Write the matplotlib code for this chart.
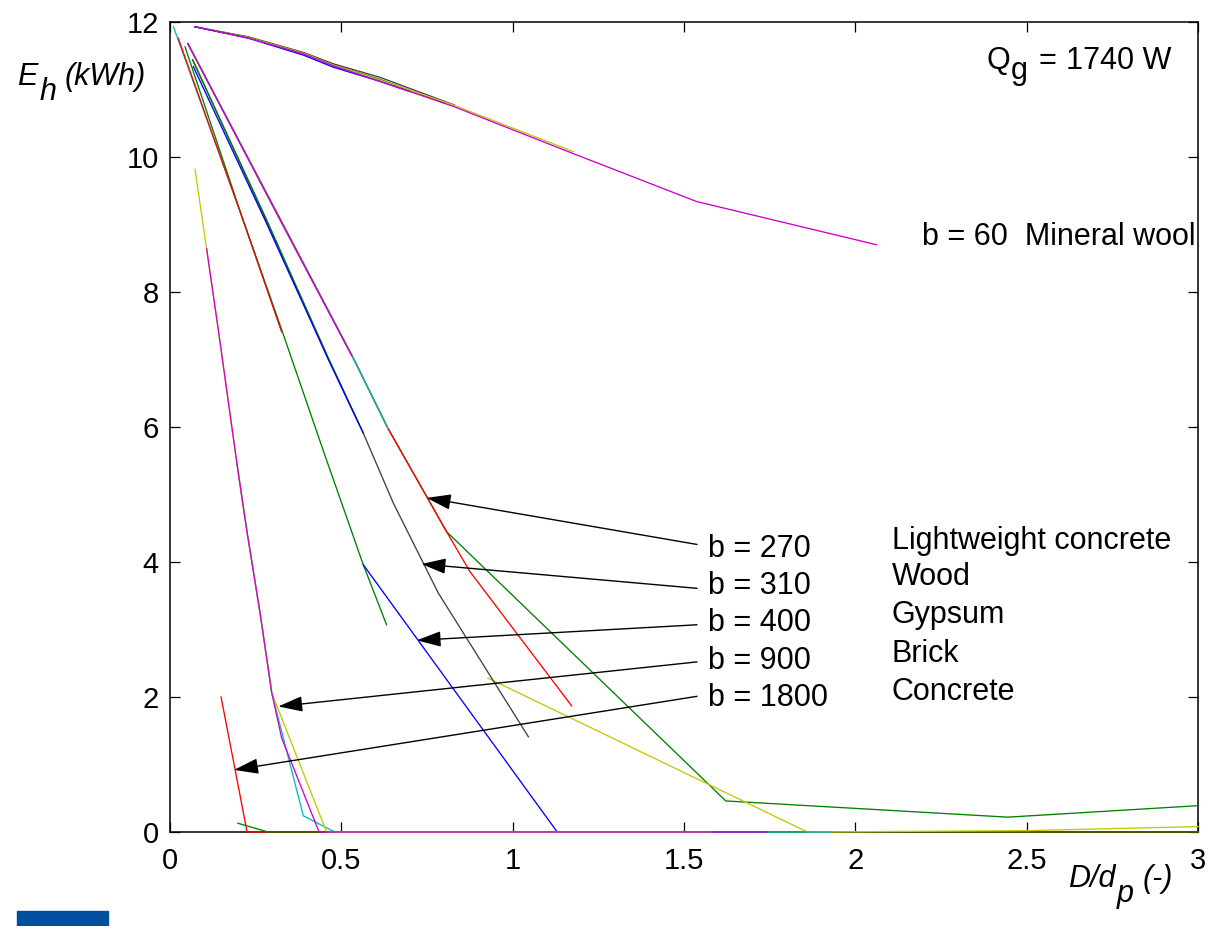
import matplotlib
matplotlib.use("Agg")
import matplotlib.pyplot as plt
from matplotlib.patches import Rectangle

W, H = 1209, 926
plt.rcParams['font.family'] = ['Liberation Sans', 'DejaVu Sans']

# ---------------- data ----------------
# colours (MATLAB-style line colours)
C_B = (0.0, 0.0, 1.0)
C_G = (0.0, 0.5, 0.0)
C_R = (1.0, 0.0, 0.0)
C_C = (0.0, 0.75, 0.75)
C_M = (0.82, 0.0, 0.82)
C_Y = (0.78, 0.78, 0.0)
C_K = (0.25, 0.25, 0.25)

# Mineral wool (b = 60)
mw_k_x = [0.072, 0.229, 0.389, 0.477, 0.613, 0.83]
mw_k_y = [11.93, 11.78, 11.55, 11.38, 11.18, 10.77]
mw_g_x = [0.072, 0.229, 0.389, 0.477, 0.613, 0.80]
mw_g_y = [11.93, 11.77, 11.54, 11.36, 11.15, 10.80]
mw_b_x = [0.072, 0.229, 0.389, 0.477, 0.613, 0.70]
mw_b_y = [11.93, 11.76, 11.51, 11.33, 11.12, 10.97]
mw_y_x = [0.072, 0.229, 0.389, 0.477, 0.613, 0.827, 1.177]
mw_y_y = [11.93, 11.77, 11.54, 11.36, 11.14, 10.77, 10.08]
mw_m_x = [0.072, 0.229, 0.389, 0.477, 0.613, 0.827, 1.177, 1.537, 2.062]
mw_m_y = [11.93, 11.76, 11.53, 11.35, 11.12, 10.75, 10.05, 9.34, 8.70]

# Lightweight concrete (b = 270)
lw_g_x = [0.052, 0.535, 0.636, 0.749, 0.807, 1.622, 2.445, 3.0]
lw_g_y = [11.68, 7.02, 5.98, 4.97, 4.45, 0.46, 0.22, 0.39]
lw_r_x = [0.052, 0.535, 0.636, 0.749, 0.807, 0.875, 1.172]
lw_r_y = [11.68, 7.02, 5.98, 4.97, 4.45, 3.86, 1.87]
lw_c_x = [0.052, 0.321, 0.535, 0.636]
lw_c_y = [11.68, 9.07, 7.02, 5.98]
lw_m_x = [0.052, 0.321, 0.53]
lw_m_y = [11.68, 9.07, 7.06]
lw_y_x = [0.928, 1.86, 2.5, 3.0]
lw_y_y = [2.28, 0.0, 0.02, 0.08]

# Wood (b = 310)
wd_k_x = [0.066, 0.28, 0.462, 0.564, 0.652, 0.783, 1.046]
wd_k_y = [11.44, 9.07, 7.02, 5.91, 4.87, 3.54, 1.41]
wd_g_x = [0.066, 0.282, 0.462, 0.55]
wd_g_y = [11.44, 9.07, 7.02, 6.06]
wd_b_x = [0.068, 0.277, 0.462, 0.564]
wd_b_y = [11.34, 9.07, 7.00, 5.91]

# Gypsum (b = 400)
gy_c_x = [0.010, 0.213, 0.326]
gy_c_y = [11.93, 9.07, 7.41]
gy_r_x = [0.024, 0.213, 0.326]
gy_r_y = [11.76, 9.07, 7.41]
gy_g_x = [0.044, 0.213, 0.326, 0.45, 0.564, 0.632]
gy_g_y = [11.63, 9.07, 7.44, 5.61, 3.96, 3.07]
gy_b_x = [0.564, 1.13, 1.74]
gy_b_y = [3.96, 0.0, 0.0]

# Brick (b = 900)
br_y_x = [0.073, 0.141, 0.195, 0.224, 0.263, 0.297, 0.457, 1.58]
br_y_y = [9.82, 7.44, 5.47, 4.47, 3.24, 2.06, 0.0, 0.0]
br_m_x = [0.107, 0.141, 0.195, 0.224, 0.263, 0.297, 0.326, 0.435, 1.74]
br_m_y = [8.64, 7.44, 5.47, 4.47, 3.24, 2.06, 1.39, 0.0, 0.0]
br_c_x = [0.195, 0.224, 0.263, 0.297, 0.389, 0.481, 1.93]
br_c_y = [5.47, 4.47, 3.24, 2.06, 0.24, 0.0, 0.0]

# Concrete (b = 1800)
co_r_x = [0.149, 0.225, 3.0]
co_r_y = [2.0, 0.0, 0.0]
co_g_x = [0.198, 0.286, 3.0]
co_g_y = [0.13, 0.0, 0.0]

# arrow annotations: label, tail (x, y), tip (x, y)
arrow_labels = ["b = 270", "b = 310", "b = 400", "b = 900", "b = 1800"]
arrow_tail_x = [1.538, 1.538, 1.538, 1.538, 1.538]
arrow_tail_y = [4.26, 3.61, 3.07, 2.52, 2.01]
arrow_tip_x = [0.749, 0.734, 0.72, 0.316, 0.187]
arrow_tip_y = [4.95, 3.97, 2.84, 1.86, 0.92]
label_x = 1.57
label_y = [4.07, 3.53, 2.98, 2.41, 1.87]

materials = ["Lightweight concrete", "Wood", "Gypsum", "Brick", "Concrete"]
material_x = 2.106
material_y = [4.20, 3.66, 3.09, 2.52, 1.96]

x_ticks = [0, 0.5, 1, 1.5, 2, 2.5, 3]
x_tick_labels = ["0", "0.5", "1", "1.5", "2", "2.5", "3"]
y_ticks = [0, 2, 4, 6, 8, 10, 12]
y_tick_labels = ["0", "2", "4", "6", "8", "10", "12"]

# ---------------- figure ----------------
fig = plt.figure(figsize=(W / 100, H / 100), dpi=100)
ax = fig.add_axes([170 / W, 94 / H, 1028 / W, 810 / H])
ax.set_xlim(0, 3)
ax.set_ylim(0, 12)

series = [
    (co_r_x, co_r_y, C_R), (co_g_x, co_g_y, C_G),
    (lw_g_x, lw_g_y, C_G), (lw_r_x, lw_r_y, C_R), (lw_c_x, lw_c_y, C_C), (lw_m_x, lw_m_y, C_M),
    (lw_y_x, lw_y_y, C_Y),
    (wd_k_x, wd_k_y, C_K), (wd_g_x, wd_g_y, C_G), (wd_b_x, wd_b_y, C_B),
    (gy_c_x, gy_c_y, C_C), (gy_g_x, gy_g_y, C_G), (gy_r_x, gy_r_y, C_R), (gy_b_x, gy_b_y, C_B),
    (br_c_x, br_c_y, C_C), (br_y_x, br_y_y, C_Y), (br_m_x, br_m_y, C_M),
    (mw_k_x, mw_k_y, C_K), (mw_g_x, mw_g_y, C_G), (mw_y_x, mw_y_y, C_Y),
    (mw_b_x, mw_b_y, C_B), (mw_m_x, mw_m_y, C_M),
]
for xs, ys, c in series:
    ax.plot(xs, ys, color=c, lw=0.95, clip_on=False, zorder=3,
            solid_joinstyle='miter')

# axes styling (MATLAB-like box with inward ticks)
for sp in ax.spines.values():
    sp.set_linewidth(1.1)
    sp.set_zorder(2.5)
ax.set_xticks(x_ticks)
ax.set_xticklabels(x_tick_labels)
ax.set_yticks(y_ticks)
ax.set_yticklabels(y_tick_labels)
ax.tick_params(direction='in', length=7, width=0.9, top=True, right=True,
               labelsize=21, colors='k')
ax.tick_params(axis='x', pad=11)
ax.tick_params(axis='y', pad=8)

# arrows and labels
for lab, tx, ty, hx, hy, ly in zip(arrow_labels, arrow_tail_x, arrow_tail_y,
                                   arrow_tip_x, arrow_tip_y, label_y):
    ax.annotate('', xy=(hx, hy), xytext=(tx, ty),
                arrowprops=dict(arrowstyle='-|>,head_length=0.75,head_width=0.24',
                                mutation_scale=20, color='k', lw=1.0,
                                shrinkA=0, shrinkB=0), zorder=5)
    ax.text(label_x, ly, lab, fontsize=22, ha='left', va='baseline', zorder=6)

for m, my in zip(materials, material_y):
    ax.text(material_x, my, m, fontsize=22, ha='left', va='baseline', zorder=6)

ax.text(2.196, 8.70, "b = 60  Mineral wool", fontsize=22, ha='left',
        va='baseline', zorder=6, clip_on=False)

# text built from pieces so that subscripts stay full-size (MATLAB look)
renderer = fig.canvas.get_renderer()


def pieces_text(x_px, y_px, pieces, size, style='normal'):
    cur = x_px
    for s, dy, gap in pieces:
        cur += gap
        t = fig.text(cur / W, 1 - (y_px + dy) / H, s, fontsize=size, style=style,
                     ha='left', va='baseline')
        bb = t.get_window_extent(renderer)
        cur += bb.width


pieces_text(986, 69, [("Q", 0, 0), ("g", 10, 1), ("=", 0, 11), ("1740 W", 0, 9)], 22)
pieces_text(17, 85, [("E", 0, 0), ("h", 15, 2), ("(kWh)", 0, 8)], 22, 'italic')
pieces_text(1068, 887, [("D/d", 0, 0), ("p", 15, 1), ("(-)", 0, 9)], 22, 'italic')

# blue corner bar
fig.patches.append(Rectangle((17 / W, 1 - 926 / H), 91 / W, 15 / H,
                             transform=fig.transFigure, color='#0050A0'))

fig.savefig("out.png", dpi=100)
